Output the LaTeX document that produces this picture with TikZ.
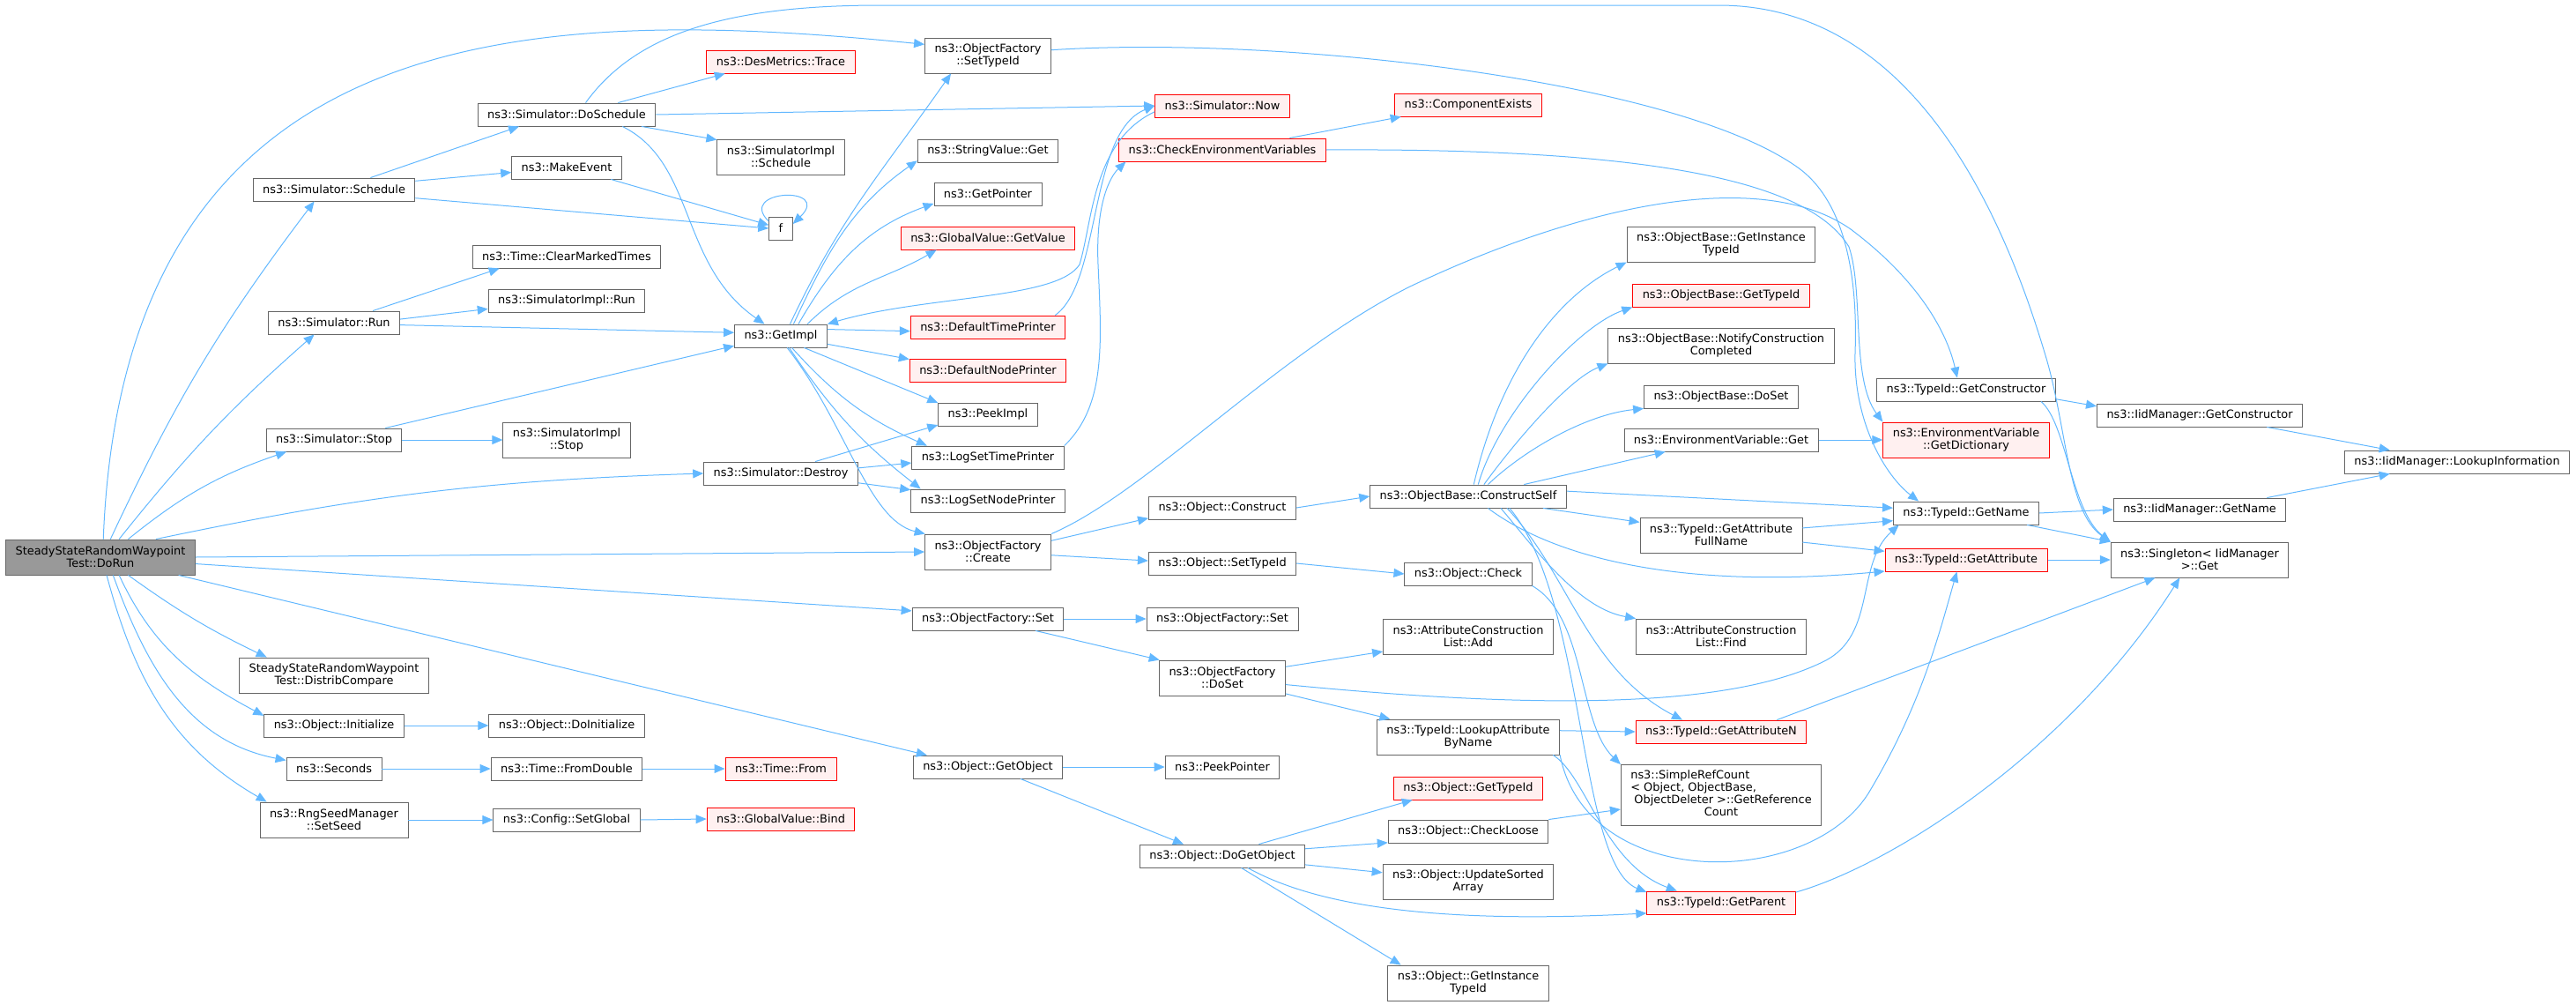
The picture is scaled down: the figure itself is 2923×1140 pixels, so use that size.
\documentclass[tikz,border=0pt]{standalone}
\usepackage{fontspec}
\setmainfont{DejaVu Sans}
\usetikzlibrary{arrows.meta}
\definecolor{edgeblue}{HTML}{63B8FF}
\definecolor{truncfill}{HTML}{FFF0F0}

\begin{document}
\begin{tikzpicture}[x=0.5pt, y=0.5pt,
    fn/.style={draw=black!60, fill=white, line width=0.45pt, inner xsep=5.5pt, inner ysep=1pt,
      minimum height=13pt, align=center, font=\fontsize{6.45pt}{7pt}\selectfont},
    two/.style={minimum height=20pt},
    trunc/.style={fn, draw=red, fill=truncfill},
    root/.style={fn, fill=black!40},
    call/.style={draw=edgeblue, line width=0.5pt, -{Triangle[length=6pt,width=5pt]}}]
  \useasboundingbox (0,0) rectangle (2923,-1140);

  \node[root,two] (dorun) at (114,-632) {SteadyStateRandomWaypoint\\Test::DoRun};

  \node[fn] (sched) at (379,-215) {ns3::Simulator::Schedule};
  \node[fn] (simrun) at (379,-366) {ns3::Simulator::Run};
  \node[fn] (simstop) at (379,-499) {ns3::Simulator::Stop};
  \node[fn,two] (distrib) at (379,-766) {SteadyStateRandomWaypoint\\Test::DistribCompare};
  \node[fn] (init) at (379,-823) {ns3::Object::Initialize};
  \node[fn] (seconds) at (379,-872) {ns3::Seconds};
  \node[fn,two] (setseed) at (379,-930) {ns3::RngSeedManager\\::SetSeed};

  \node[fn] (dosched) at (643,-130) {ns3::Simulator::DoSchedule};
  \node[fn] (mkevent) at (643,-190) {ns3::MakeEvent};
  \node[fn] (clrtimes) at (643,-291) {ns3::Time::ClearMarkedTimes};
  \node[fn] (implrun) at (643,-341) {ns3::SimulatorImpl::Run};
  \node[fn,two] (implstop) at (643,-499) {ns3::SimulatorImpl\\::Stop};
  \node[fn] (doinit) at (643,-823) {ns3::Object::DoInitialize};
  \node[fn] (fromdbl) at (643,-872) {ns3::Time::FromDouble};
  \node[fn] (setglobal) at (643,-930) {ns3::Config::SetGlobal};

  \node[trunc] (trace) at (886,-70) {ns3::DesMetrics::Trace};
  \node[fn,two] (implsched) at (886,-178) {ns3::SimulatorImpl\\::Schedule};
  \node[fn] (f) at (886,-259) {f};
  \node[fn] (getimpl) at (886,-381) {ns3::GetImpl};
  \node[fn] (destroy) at (886,-537) {ns3::Simulator::Destroy};
  \node[trunc] (timefrom) at (886,-872) {ns3::Time::From};
  \node[trunc] (bind) at (886,-929) {ns3::GlobalValue::Bind};

  \node[fn,two] (ofsettid) at (1121,-63) {ns3::ObjectFactory\\::SetTypeId};
  \node[fn] (strget) at (1121,-171) {ns3::StringValue::Get};
  \node[fn] (getptr) at (1121,-220) {ns3::GetPointer};
  \node[trunc] (getvalue) at (1121,-270) {ns3::GlobalValue::GetValue};
  \node[trunc] (deftime) at (1121,-371) {ns3::DefaultTimePrinter};
  \node[trunc] (defnode) at (1121,-420) {ns3::DefaultNodePrinter};
  \node[fn] (peekimpl) at (1121,-470) {ns3::PeekImpl};
  \node[fn] (settime) at (1121,-519) {ns3::LogSetTimePrinter};
  \node[fn] (setnode) at (1121,-568) {ns3::LogSetNodePrinter};
  \node[fn,two] (create) at (1121,-626) {ns3::ObjectFactory\\::Create};
  \node[fn] (ofset) at (1121,-702) {ns3::ObjectFactory::Set};
  \node[fn] (getobj) at (1121,-870) {ns3::Object::GetObject};

  \node[trunc] (now) at (1387,-120) {ns3::Simulator::Now};
  \node[trunc] (checkenv) at (1387,-170) {ns3::CheckEnvironmentVariables};
  \node[fn] (construct) at (1387,-576) {ns3::Object::Construct};
  \node[fn] (objsettid) at (1387,-639) {ns3::Object::SetTypeId};
  \node[fn] (ofset2) at (1387,-702) {ns3::ObjectFactory::Set};
  \node[fn,two] (doset) at (1387,-769) {ns3::ObjectFactory\\::DoSet};
  \node[fn] (peekptr) at (1387,-870) {ns3::PeekPointer};
  \node[fn] (dogetobj) at (1387,-971) {ns3::Object::DoGetObject};

  \node[trunc] (compexists) at (1666,-119) {ns3::ComponentExists};
  \node[fn] (cself) at (1666,-563) {ns3::ObjectBase::ConstructSelf};
  \node[fn] (check) at (1666,-651) {ns3::Object::Check};
  \node[fn,two] (acladd) at (1666,-722) {ns3::AttributeConstruction\\List::Add};
  \node[fn,two] (lookup) at (1666,-836) {ns3::TypeId::LookupAttribute\\ByName};
  \node[trunc] (objgettid) at (1666,-894) {ns3::Object::GetTypeId};
  \node[fn] (checkloose) at (1666,-943) {ns3::Object::CheckLoose};
  \node[fn,two] (updsorted) at (1666,-1000) {ns3::Object::UpdateSorted\\Array};
  \node[fn,two] (objgetinst) at (1666,-1115) {ns3::Object::GetInstance\\TypeId};

  \node[fn,two] (obgetinst) at (1953,-277) {ns3::ObjectBase::GetInstance\\TypeId};
  \node[trunc] (obgettid) at (1953,-335) {ns3::ObjectBase::GetTypeId};
  \node[fn,two] (notify) at (1953,-392) {ns3::ObjectBase::NotifyConstruction\\Completed};
  \node[fn] (obdoset) at (1953,-450) {ns3::ObjectBase::DoSet};
  \node[fn] (envget) at (1953,-499) {ns3::EnvironmentVariable::Get};
  \node[fn,two] (fullname) at (1953,-607) {ns3::TypeId::GetAttribute\\FullName};
  \node[fn,two] (aclfind) at (1953,-722) {ns3::AttributeConstruction\\List::Find};
  \node[trunc] (getattrn) at (1953,-830) {ns3::TypeId::GetAttributeN};
  \node[fn,minimum height=34.5pt] (refcount) at (1953,-902) {\begin{tabular}{@{}l@{}}ns3::SimpleRefCount\\< Object, ObjectBase,\\\ ObjectDeleter >::GetReference\\\multicolumn{1}{@{}c@{}}{Count}\end{tabular}};
  \node[trunc] (getparent) at (1953,-1024) {ns3::TypeId::GetParent};

  \node[fn] (getctor) at (2231,-442) {ns3::TypeId::GetConstructor};
  \node[trunc,two] (getdict) at (2231,-499) {ns3::EnvironmentVariable\\::GetDictionary};
  \node[fn] (getname) at (2231,-582) {ns3::TypeId::GetName};
  \node[trunc] (getattr) at (2231,-635) {ns3::TypeId::GetAttribute};

  \node[fn] (iidctor) at (2496,-471) {ns3::IidManager::GetConstructor};
  \node[fn] (iidname) at (2496,-578) {ns3::IidManager::GetName};
  \node[fn,two] (singleton) at (2496,-635) {ns3::Singleton< IidManager\\>::Get};
  \node[fn] (lookupinfo) at (2788,-524) {ns3::IidManager::LookupInformation};

  \draw[call] (dorun.81) .. controls (140,-20) and (600,-5) .. (ofsettid.170);
  \draw[call] (dorun.61) to[bend left=6] (sched.-149);
  \draw[call] (dorun.44) to[bend left=5] (simrun.-149);
  \draw[call] (dorun.33) to[bend left=10] (simstop.-166);
  \draw[call] (dorun.18) to[bend left=5] (destroy.west);
  \draw[call] (dorun.east) -- (create.west);
  \draw[call] (dorun.-4) -- (ofset.174);
  \draw[call] (dorun.-13) -- (getobj.169);
  \draw[call] (dorun.-33) to[bend right=5] (distrib.165);
  \draw[call] (dorun.-44) to[out=-65,in=152] (init.172);
  \draw[call] (dorun.-55) to[out=-70,in=169] (seconds.170);
  \draw[call] (dorun.-71) to[out=-75,in=150] (setseed.165);

  \draw[call] (sched.18) -- (dosched.-166);
  \draw[call] (sched.6) -- (mkevent.-175);
  \draw[call] (sched.-6) -- (f.west);
  \draw[call] (mkevent.-15) -- (f.165);
  \draw[call] (f.150) .. controls (835,-215) and (945,-210) .. (f.20);

  \draw[call] (dosched.13) -- (trace.-168);
  \draw[call] (dosched.-9) -- (implsched.165);
  \draw[call] (dosched.east) -- (now.west);
  \draw[call] (dosched.-12) .. controls (790,-185) and (770,-300) .. (getimpl.144);
  \draw[call] (dosched.32) .. controls (720,-40) and (820,-6) .. (1000,-6) -- (1950,-6)
    .. controls (2150,-6) and (2260,-200) .. (2320,-400)
    .. controls (2345,-480) and (2345,-580) .. (singleton.north west);

  \draw[call] (simrun.17) -- (clrtimes.-170);
  \draw[call] (simrun.3) -- (implrun.-174);
  \draw[call] (simrun.-2) -- (getimpl.176);
  \draw[call] (simstop.east) -- (implstop.west);
  \draw[call] (simstop.13) -- (getimpl.-168);

  \draw[call] (destroy.19) -- (peekimpl.-168);
  \draw[call] (destroy.4) -- (settime.-176);
  \draw[call] (destroy.-7) -- (setnode.172);

  \draw[call] (getimpl.52) to[out=65,in=235] (ofsettid.-154);
  \draw[call] (getimpl.43) to[out=65,in=215] (strget.-172);
  \draw[call] (getimpl.34) to[out=60,in=200] (getptr.-170);
  \draw[call] (getimpl.24) to[out=45,in=210] (getvalue.-167);
  \draw[call] (getimpl.8) -- (deftime.-177);
  \draw[call] (getimpl.-10) -- (defnode.172);
  \draw[call] (getimpl.-27) -- (peekimpl.167);
  \draw[call] (getimpl.-47) to[bend right=12] (settime.169);
  \draw[call] (getimpl.-55) to[bend right=9] (setnode.170);
  \draw[call] (getimpl.-62) .. controls (960,-480) and (985,-590) .. (create.164);

  \draw[call] (now.-175) .. controls (1240,-160) and (1240,-250) .. (1225,-300)
    .. controls (1200,-340) and (1050,-335) .. (getimpl.north east);
  \draw[call] (deftime.10) .. controls (1250,-320) and (1235,-150) .. (now.west);
  \draw[call] (settime.north east) .. controls (1255,-460) and (1250,-390) .. (1246,-300)
    .. controls (1243,-230) and (1260,-200) .. (checkenv.-173);
  \draw[call] (checkenv.10) -- (compexists.-170);
  \draw[call] (checkenv.east) .. controls (1850,-168) and (2050,-200) .. (2098,-280)
    .. controls (2115,-330) and (2100,-430) .. (getdict.north west);

  \draw[call] (ofsettid.5) .. controls (1450,-40) and (1900,-90) .. (2040,-190)
    .. controls (2096,-230) and (2108,-320) .. (2105,-400)
    .. controls (2103,-480) and (2140,-540) .. (getname.166);

  \draw[call] (create.10) -- (construct.-172);
  \draw[call] (create.-3) -- (objsettid.178);
  \draw[call] (create.north east) .. controls (1300,-560) and (1450,-400) .. (1600,-325)
    .. controls (1800,-230) and (2000,-190) .. (2100,-260)
    .. controls (2180,-320) and (2210,-380) .. (getctor.127);
  \draw[call] (construct.east) -- (cself.west);
  \draw[call] (objsettid.east) -- (check.west);

  \draw[call] (ofset.east) -- (ofset2.west);
  \draw[call] (ofset.-14) -- (doset.164);
  \draw[call] (doset.10) -- (acladd.-170);
  \draw[call] (doset.-6) .. controls (1700,-800) and (1950,-810) .. (2070,-750)
    .. controls (2130,-720) and (2105,-640) .. (getname.-170);
  \draw[call] (doset.-14) -- (lookup.167);

  \draw[call] (getobj.east) -- (peekptr.west);
  \draw[call] (getobj.-20) -- (dogetobj.163);
  \draw[call] (dogetobj.18) -- (objgettid.-168);
  \draw[call] (dogetobj.5) -- (checkloose.-172);
  \draw[call] (dogetobj.-6) -- (updsorted.174);
  \draw[call] (dogetobj.-25) .. controls (1480,-1020) and (1600,-1050) .. (getparent.-172);
  \draw[call] (dogetobj.-32) -- (objgetinst.165);

  \draw[call] (cself.65) .. controls (1700,-430) and (1760,-340) .. (obgetinst.south west);
  \draw[call] (cself.50) .. controls (1700,-470) and (1790,-370) .. (obgettid.south west);
  \draw[call] (cself.37) .. controls (1720,-500) and (1780,-430) .. (notify.south west);
  \draw[call] (cself.31) .. controls (1730,-510) and (1800,-470) .. (obdoset.south west);
  \draw[call] (cself.12) -- (envget.-168);
  \draw[call] (cself.3) -- (getname.176);
  \draw[call] (cself.-9) -- (fullname.171);
  \draw[call] (cself.-31) .. controls (1760,-630) and (1900,-670) .. (getattr.-172);
  \draw[call] (cself.-20) .. controls (1740,-620) and (1790,-690) .. (aclfind.north west);
  \draw[call] (cself.-17.6) .. controls (1780,-650) and (1800,-760) .. (getattrn.163);
  \draw[call] (cself.-16) .. controls (1800,-680) and (1790,-980) .. (getparent.172);

  \draw[call] (check.south east) .. controls (1800,-700) and (1790,-820) .. (refcount.north west);
  \draw[call] (checkloose.north east) -- (refcount.-172);
  \draw[call] (lookup.4) -- (getattrn.west);
  \draw[call] (lookup.-12) .. controls (1800,-880) and (1820,-980) .. (getparent.165);
  \draw[call] (lookup.-11) .. controls (1800,-1010) and (2050,-1010) .. (2120,-900)
    .. controls (2180,-800) and (2200,-720) .. (getattr.-128);

  \draw[call] (fullname.5) -- (getname.-174);
  \draw[call] (fullname.-5) -- (getattr.174);
  \draw[call] (envget.east) -- (getdict.west);
  \draw[call] (getattrn.12) -- (singleton.-158);
  \draw[call] (getparent.8) .. controls (2150,-980) and (2350,-850) .. (singleton.-138);
  \draw[call] (getname.east) -- (iidname.west);
  \draw[call] (getname.-11) -- (singleton.north west);
  \draw[call] (getattr.east) -- (singleton.west);
  \draw[call] (getctor.-6) -- (iidctor.175);
  \draw[call] (getctor.-9) .. controls (2345,-480) and (2350,-580) .. (singleton.north west);
  \draw[call] (iidctor.-10.5) -- (lookupinfo.170);
  \draw[call] (iidname.10) -- (lookupinfo.-170);

  \draw[call] (init.east) -- (doinit.west);
  \draw[call] (seconds.east) -- (fromdbl.west);
  \draw[call] (fromdbl.east) -- (timefrom.west);
  \draw[call] (setseed.east) -- (setglobal.west);
  \draw[call] (setglobal.east) -- (bind.west);
\end{tikzpicture}
\end{document}
